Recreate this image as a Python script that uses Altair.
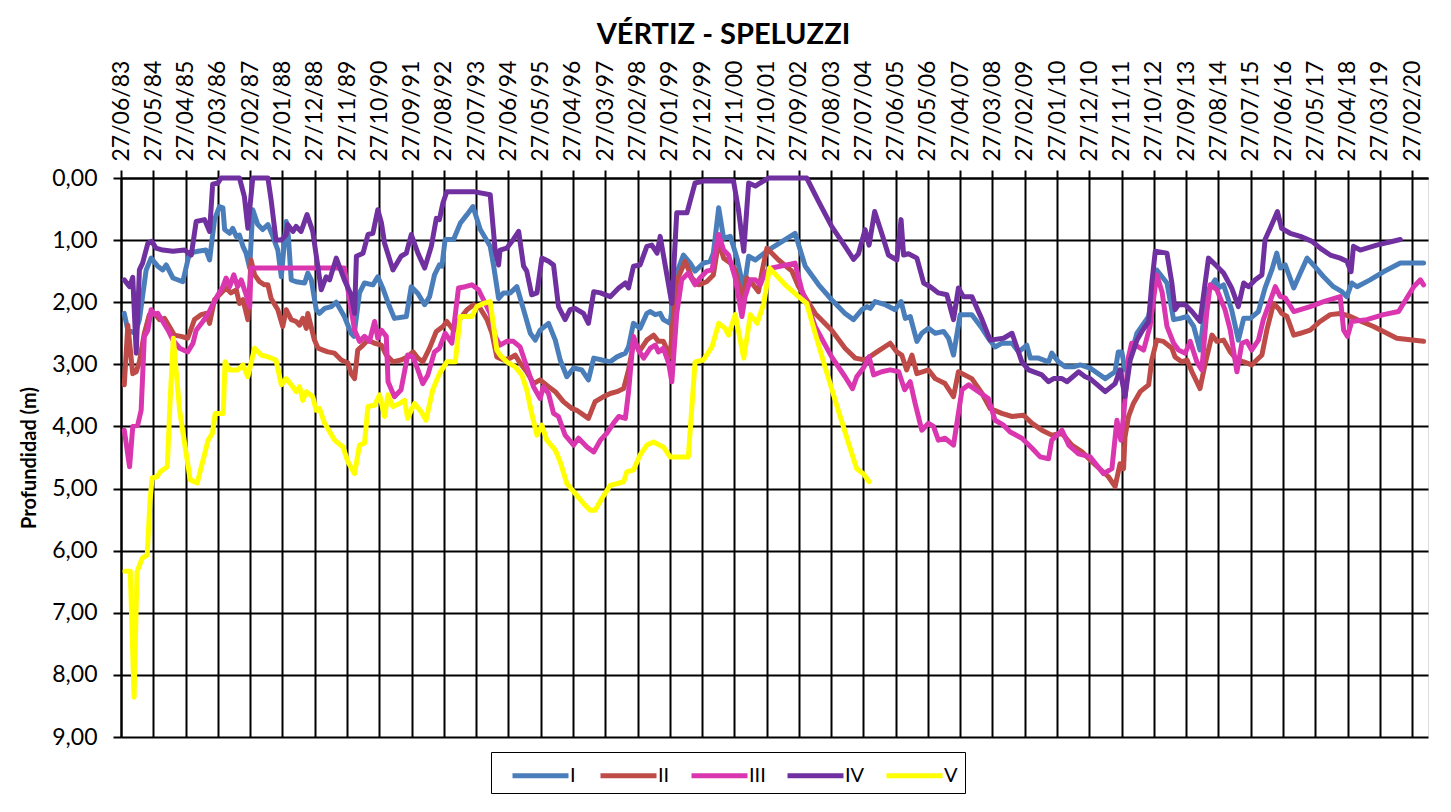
import altair as alt
import pandas as pd

TITLE = "VÉRTIZ - SPELUZZI"
Y_TITLE = "Profundidad (m)"
SERIES = ["I", "II", "III", "IV", "V"]
COLORS = ["#4A7EBB", "#BE4B48", "#DA36B0", "#7030A0", "#FFFF00"]

TICK_LABELS = [
    "27/06/83", "27/05/84", "27/04/85", "27/03/86", "27/02/87", "27/01/88", "27/12/88",
    "27/11/89", "27/10/90", "27/09/91", "27/08/92", "27/07/93", "27/06/94", "27/05/95",
    "27/04/96", "27/03/97", "27/02/98", "27/01/99", "27/12/99", "27/11/00", "27/10/01",
    "27/09/02", "27/08/03", "27/07/04", "27/06/05", "27/05/06", "27/04/07", "27/03/08",
    "27/02/09", "27/01/10", "27/12/10", "27/11/11", "27/10/12", "27/09/13", "27/08/14",
    "27/07/15", "27/06/16", "27/05/17", "27/04/18", "27/03/19", "27/02/20",
]
X_END = "2020-08-09"
Y_TICKS = [0, 1, 2, 3, 4, 5, 6, 7, 8, 9]

# ---- Series I ----
I_YEAR = [1983.58, 1983.68, 1983.89, 1984.01, 1984.20, 1984.34, 1984.53, 1984.67, 1984.77, 1984.96,
          1985.24, 1985.43, 1985.67, 1985.90, 1986.00, 1986.14, 1986.28, 1986.38, 1986.43, 1986.57,
          1986.66, 1986.76, 1986.85, 1986.95, 1987.04, 1987.14, 1987.23, 1987.37, 1987.51, 1987.66,
          1987.80, 1987.94, 1988.04, 1988.18, 1988.24, 1988.32, 1988.46, 1988.70, 1988.79, 1988.89,
          1989.03, 1989.12, 1989.27, 1989.46, 1989.60, 1989.83, 1990.02, 1990.10, 1990.26, 1990.40,
          1990.64, 1990.78, 1990.92, 1991.11, 1991.25, 1991.59, 1991.73, 1991.92, 1992.11, 1992.25,
          1992.39, 1992.53, 1992.60, 1992.69, 1992.93, 1993.12, 1993.31, 1993.48, 1993.69, 1993.97,
          1994.07, 1994.21, 1994.35, 1994.54, 1994.73, 1994.92, 1995.11, 1995.25, 1995.39, 1995.63,
          1995.82, 1995.96, 1996.15, 1996.34, 1996.57, 1996.76, 1996.91, 1997.14, 1997.38, 1997.57,
          1997.81, 1997.90, 1998.04, 1998.23, 1998.42, 1998.52, 1998.66, 1998.80, 1998.89, 1999.08,
          1999.27, 1999.46, 1999.65, 1999.79, 2000.03, 2000.22, 2000.31, 2000.46, 2000.60, 2000.79,
          2000.98, 2001.17, 2001.31, 2001.50, 2001.64, 2001.87, 2002.63, 2002.92, 2003.30, 2003.67,
          2004.05, 2004.29, 2004.53, 2004.67, 2004.76, 2004.90, 2005.19, 2005.47, 2005.64, 2005.76,
          2005.90, 2006.09, 2006.23, 2006.42, 2006.61, 2006.85, 2006.99, 2007.13, 2007.32, 2007.65,
          2007.94, 2008.12, 2008.31, 2008.50, 2008.79, 2008.98, 2009.21, 2009.31, 2009.54, 2009.83,
          2009.92, 2010.11, 2010.30, 2010.54, 2010.73, 2011.01, 2011.44, 2011.72, 2011.81, 2011.91,
          2012.00, 2012.15, 2012.34, 2012.67, 2012.90, 2013.19, 2013.38, 2013.57, 2013.76, 2013.95,
          2014.13, 2014.32, 2014.56, 2014.66, 2014.80, 2015.03, 2015.22, 2015.37, 2015.56, 2015.79,
          2015.98, 2016.17, 2016.31, 2016.41, 2016.55, 2016.79, 2016.98, 2017.17, 2017.35, 2017.64,
          2017.92, 2018.16, 2018.30, 2018.44, 2018.59, 2018.96, 2019.34, 2019.82, 2020.48]
I_DEPTH = [2.18, 2.45, 2.50, 2.28, 1.48, 1.29, 1.42, 1.48, 1.40, 1.61,
           1.67, 1.21, 1.18, 1.16, 1.32, 0.67, 0.46, 0.48, 0.83, 0.89,
           0.81, 0.94, 0.92, 1.10, 1.21, 1.45, 0.51, 0.75, 0.83, 0.75,
           0.94, 1.16, 1.59, 0.70, 0.94, 1.64, 1.67, 1.69, 1.53, 1.64,
           2.12, 2.18, 2.10, 2.07, 2.00, 2.23, 2.50, 2.55, 1.85, 1.69,
           1.72, 1.59, 1.77, 2.07, 2.26, 2.23, 1.75, 1.86, 2.04, 1.91,
           1.56, 1.40, 1.42, 0.99, 0.99, 0.73, 0.59, 0.46, 0.83, 1.10,
           1.42, 1.94, 1.85, 1.85, 1.75, 2.12, 2.50, 2.61, 2.45, 2.34,
           2.61, 2.93, 3.20, 3.06, 3.09, 3.25, 2.90, 2.93, 2.96, 2.88,
           2.82, 2.72, 2.34, 2.42, 2.18, 2.15, 2.20, 2.18, 2.28, 2.34,
           1.53, 1.24, 1.37, 1.50, 1.37, 1.34, 1.21, 0.48, 0.97, 0.94,
           1.29, 1.80, 1.26, 1.32, 1.26, 1.16, 0.89, 1.42, 1.72, 1.96,
           2.18, 2.28, 2.12, 2.07, 2.10, 1.99, 2.04, 2.12, 1.99, 2.26,
           2.23, 2.63, 2.50, 2.42, 2.50, 2.47, 2.58, 2.85, 2.20, 2.20,
           2.42, 2.58, 2.72, 2.66, 2.66, 2.80, 2.69, 2.90, 2.90, 2.96,
           2.82, 2.96, 3.04, 3.04, 3.01, 3.06, 3.23, 3.12, 2.80, 2.80,
           3.09, 2.88, 2.50, 2.23, 1.48, 1.69, 2.28, 2.26, 2.23, 2.39,
           2.77, 1.85, 1.64, 1.77, 1.72, 2.12, 2.61, 2.26, 2.26, 2.15,
           1.77, 1.48, 1.21, 1.45, 1.40, 1.77, 1.53, 1.29, 1.40, 1.59,
           1.75, 1.83, 1.91, 1.69, 1.75, 1.64, 1.51, 1.37, 1.37]

# ---- Series II ----
II_YEAR = [1983.58, 1983.68, 1983.82, 1983.92, 1984.01, 1984.15, 1984.29, 1984.44, 1984.58, 1984.72,
           1984.86, 1985.00, 1985.19, 1985.38, 1985.57, 1985.76, 1985.90, 1986.00, 1986.14, 1986.33,
           1986.47, 1986.61, 1986.76, 1986.85, 1986.95, 1987.09, 1987.18, 1987.28, 1987.42, 1987.56,
           1987.66, 1987.75, 1987.94, 1988.08, 1988.18, 1988.32, 1988.46, 1988.56, 1988.65, 1988.75,
           1988.79, 1988.98, 1989.08, 1989.22, 1989.36, 1989.55, 1989.74, 1989.93, 1990.02, 1990.12,
           1990.21, 1990.36, 1990.50, 1990.69, 1990.88, 1991.02, 1991.21, 1991.44, 1991.63, 1991.78,
           1991.92, 1992.06, 1992.25, 1992.44, 1992.63, 1992.74, 1992.93, 1993.12, 1993.31, 1993.50,
           1993.69, 1993.88, 1994.02, 1994.16, 1994.35, 1994.54, 1994.68, 1994.82, 1995.01, 1995.20,
           1995.39, 1995.63, 1995.82, 1996.05, 1996.29, 1996.43, 1996.76, 1996.95, 1997.19, 1997.38,
           1997.57, 1997.76, 1997.90, 1998.04, 1998.23, 1998.42, 1998.61, 1998.75, 1998.89, 1999.08,
           1999.22, 1999.32, 1999.51, 1999.70, 1999.89, 2000.12, 2000.31, 2000.46, 2000.60, 2000.79,
           2000.93, 2001.12, 2001.26, 2001.40, 2001.59, 2001.70, 2001.83, 2002.16, 2002.54, 2002.73,
           2003.20, 2003.67, 2004.05, 2004.34, 2004.62, 2004.90, 2005.33, 2005.52, 2005.66, 2005.80,
           2005.95, 2006.09, 2006.42, 2006.61, 2006.89, 2007.13, 2007.27, 2007.65, 2007.94, 2008.17,
           2008.50, 2008.79, 2009.12, 2009.36, 2009.64, 2009.92, 2010.21, 2010.49, 2010.78, 2011.16,
           2011.53, 2011.72, 2011.86, 2011.96, 2012.00, 2012.10, 2012.24, 2012.43, 2012.67, 2012.76,
           2012.90, 2013.09, 2013.33, 2013.42, 2013.61, 2013.76, 2013.90, 2014.13, 2014.28, 2014.47,
           2014.61, 2014.80, 2014.99, 2015.18, 2015.37, 2015.60, 2015.74, 2015.89, 2016.03, 2016.22,
           2016.36, 2016.45, 2016.60, 2016.79, 2016.98, 2017.26, 2017.54, 2017.83, 2018.11, 2018.40,
           2018.59, 2019.06, 2019.72, 2020.48]
II_DEPTH = [3.33, 2.37, 3.15, 3.12, 2.96, 2.50, 2.20, 2.18, 2.28, 2.26,
            2.39, 2.53, 2.55, 2.58, 2.28, 2.20, 2.18, 2.34, 1.96, 1.85,
            1.77, 1.85, 1.80, 2.02, 1.96, 2.28, 1.32, 1.56, 1.67, 1.72,
            1.72, 1.94, 2.12, 2.39, 2.12, 2.28, 2.31, 2.37, 2.26, 2.42,
            2.18, 2.61, 2.74, 2.77, 2.80, 2.82, 2.93, 2.98, 3.15, 3.23,
            2.77, 2.69, 2.61, 2.66, 2.69, 2.85, 2.96, 2.93, 2.88, 2.80,
            2.90, 2.96, 2.74, 2.47, 2.39, 2.31, 2.45, 2.26, 2.12, 2.04,
            2.10, 2.28, 2.50, 2.88, 2.93, 2.90, 2.85, 2.98, 3.12, 3.31,
            3.25, 3.36, 3.44, 3.60, 3.71, 3.74, 3.87, 3.60, 3.52, 3.47,
            3.44, 3.39, 3.09, 2.66, 2.77, 2.61, 2.53, 2.63, 2.63, 2.88,
            1.91, 1.59, 1.34, 1.61, 1.72, 1.67, 1.56, 1.02, 1.29, 1.37,
            1.48, 1.96, 1.61, 1.69, 1.83, 1.48, 1.13, 1.32, 1.50, 1.75,
            2.18, 2.45, 2.74, 2.90, 2.93, 2.82, 2.66, 2.80, 2.85, 3.09,
            2.85, 3.15, 3.09, 3.23, 3.31, 3.52, 3.12, 3.23, 3.47, 3.71,
            3.79, 3.84, 3.82, 3.95, 4.06, 4.14, 4.11, 4.30, 4.41, 4.62,
            4.81, 4.97, 4.60, 4.68, 4.17, 3.84, 3.63, 3.44, 3.33, 2.93,
            2.61, 2.63, 2.74, 2.88, 2.96, 2.93, 3.12, 3.39, 2.98, 2.53,
            2.63, 2.61, 2.80, 2.93, 2.96, 3.01, 2.93, 2.85, 2.45, 2.02,
            2.10, 2.18, 2.23, 2.53, 2.50, 2.45, 2.31, 2.20, 2.18, 2.23,
            2.28, 2.39, 2.58, 2.63]

# ---- Series III ----
III_YEAR = [1983.58, 1983.73, 1983.82, 1983.96, 1984.06, 1984.15, 1984.25, 1984.34, 1984.44, 1984.53,
            1984.67, 1984.82, 1984.96, 1985.15, 1985.38, 1985.53, 1985.62, 1985.81, 1985.95, 1986.09,
            1986.24, 1986.38, 1986.47, 1986.57, 1986.69, 1986.80, 1986.90, 1987.04, 1987.14, 1987.18,
            1989.83, 1989.93, 1990.12, 1990.26, 1990.40, 1990.54, 1990.69, 1990.78, 1990.88, 1991.02,
            1991.07, 1991.25, 1991.44, 1991.63, 1991.78, 1991.92, 1992.06, 1992.20, 1992.39, 1992.53,
            1992.69, 1992.88, 1993.07, 1993.26, 1993.45, 1993.64, 1993.78, 1993.97, 1994.11, 1994.25,
            1994.44, 1994.63, 1994.82, 1995.01, 1995.20, 1995.39, 1995.48, 1995.63, 1995.77, 1995.91,
            1996.10, 1996.34, 1996.48, 1996.72, 1996.91, 1997.10, 1997.28, 1997.47, 1997.62, 1997.81,
            1997.90, 1998.04, 1998.18, 1998.33, 1998.52, 1998.66, 1998.75, 1998.89, 1999.04, 1999.13,
            1999.27, 1999.41, 1999.60, 1999.79, 1999.93, 2000.12, 2000.27, 2000.46, 2000.60, 2000.74,
            2000.93, 2001.12, 2001.21, 2001.36, 2001.50, 2001.64, 2001.78, 2001.97, 2002.63, 2002.82,
            2003.20, 2003.67, 2004.05, 2004.26, 2004.38, 2004.57, 2004.73, 2004.86, 2005.09, 2005.33,
            2005.57, 2005.74, 2005.90, 2006.04, 2006.23, 2006.42, 2006.56, 2006.70, 2006.89, 2007.13,
            2007.37, 2007.56, 2007.84, 2008.12, 2008.31, 2008.55, 2008.74, 2009.07, 2009.36, 2009.59,
            2009.83, 2009.92, 2010.21, 2010.40, 2010.68, 2011.01, 2011.39, 2011.63, 2011.77, 2011.88,
            2011.96, 2012.10, 2012.19, 2012.38, 2012.53, 2012.71, 2012.90, 2013.05, 2013.19, 2013.38,
            2013.52, 2013.71, 2013.85, 2014.04, 2014.18, 2014.32, 2014.42, 2014.61, 2014.84, 2014.99,
            2015.18, 2015.32, 2015.46, 2015.60, 2015.79, 2015.93, 2016.12, 2016.27, 2016.41, 2016.55,
            2016.79, 2017.26, 2017.64, 2018.11, 2018.21, 2018.32, 2018.44, 2018.87, 2019.34, 2019.77,
            2020.20, 2020.39, 2020.48]
III_DEPTH = [4.06, 4.65, 4.00, 3.98, 3.74, 2.55, 2.45, 2.12, 2.20, 2.18,
             2.31, 2.45, 2.61, 2.74, 2.80, 2.66, 2.45, 2.31, 2.20, 2.04,
             1.88, 1.75, 1.61, 1.75, 1.56, 1.75, 1.64, 1.88, 2.07, 1.45,
             1.45, 1.80, 2.45, 2.63, 2.55, 2.63, 2.31, 2.58, 2.45, 2.55,
             3.28, 3.52, 3.41, 2.85, 2.88, 3.09, 3.31, 3.17, 2.80, 2.74,
             2.50, 2.66, 1.77, 1.75, 1.72, 1.80, 1.96, 2.18, 2.55, 2.69,
             2.63, 2.63, 2.72, 3.04, 3.36, 3.55, 3.36, 3.47, 3.79, 3.84,
             4.14, 4.30, 4.19, 4.33, 4.41, 4.22, 4.11, 3.95, 3.84, 3.87,
             3.44, 2.55, 2.77, 2.90, 2.74, 2.69, 2.80, 2.74, 2.98, 3.28,
             2.18, 1.64, 1.53, 1.72, 1.61, 1.50, 1.48, 0.91, 1.16, 1.24,
             1.61, 2.23, 1.91, 1.64, 1.64, 1.72, 1.52, 1.45, 1.37, 1.80,
             2.39, 2.88, 3.20, 3.39, 3.20, 3.06, 2.88, 3.17, 3.12, 3.09,
             3.12, 3.41, 3.28, 3.63, 4.06, 3.95, 4.00, 4.22, 4.19, 4.30,
             3.41, 3.33, 3.44, 3.55, 3.90, 3.98, 4.09, 4.19, 4.35, 4.49,
             4.52, 4.22, 4.06, 4.30, 4.44, 4.49, 4.76, 4.68, 3.90, 4.22,
             3.84, 2.88, 2.66, 2.72, 2.77, 2.39, 1.56, 1.83, 2.39, 2.66,
             2.77, 2.82, 2.63, 2.96, 3.09, 2.18, 1.72, 1.80, 2.12, 2.45,
             3.12, 2.66, 2.63, 2.77, 2.61, 2.28, 1.99, 1.75, 1.91, 1.93,
             2.15, 2.07, 1.99, 1.91, 2.45, 2.55, 2.31, 2.28, 2.20, 2.15,
             1.75, 1.64, 1.72]

# ---- Series IV ----
IV_YEAR = [1983.58, 1983.73, 1983.82, 1983.92, 1984.01, 1984.10, 1984.25, 1984.36, 1984.48, 1984.67,
           1984.96, 1985.29, 1985.48, 1985.62, 1985.86, 1986.00, 1986.09, 1986.24, 1986.33, 1986.85,
           1986.99, 1987.09, 1987.23, 1987.66, 1987.75, 1987.89, 1988.04, 1988.18, 1988.22, 1988.37,
           1988.46, 1988.60, 1988.77, 1988.93, 1989.17, 1989.31, 1989.41, 1989.60, 1989.83, 1990.02,
           1990.12, 1990.17, 1990.36, 1990.50, 1990.64, 1990.78, 1990.88, 1990.97, 1991.21, 1991.44,
           1991.59, 1991.73, 1991.92, 1992.11, 1992.30, 1992.44, 1992.53, 1992.63, 1992.74, 1993.50,
           1993.97, 1994.11, 1994.21, 1994.25, 1994.44, 1994.63, 1994.78, 1994.92, 1995.01, 1995.15,
           1995.30, 1995.44, 1995.63, 1995.77, 1995.91, 1996.10, 1996.24, 1996.38, 1996.62, 1996.76,
           1996.91, 1997.10, 1997.38, 1997.62, 1997.81, 1997.90, 1998.04, 1998.23, 1998.42, 1998.56,
           1998.71, 1998.80, 1999.13, 1999.27, 1999.56, 1999.79, 2000.03, 2000.88, 2001.02, 2001.17,
           2001.31, 2001.50, 2001.64, 2001.88, 2002.96, 2003.30, 2003.67, 2004.05, 2004.29, 2004.43,
           2004.62, 2004.73, 2004.89, 2005.09, 2005.28, 2005.52, 2005.64, 2005.71, 2005.85, 2006.09,
           2006.28, 2006.47, 2006.70, 2006.94, 2007.13, 2007.27, 2007.41, 2007.65, 2007.94, 2008.17,
           2008.55, 2008.79, 2009.07, 2009.26, 2009.64, 2009.83, 2009.97, 2010.21, 2010.35, 2010.68,
           2010.87, 2011.01, 2011.44, 2011.72, 2011.86, 2012.00, 2012.15, 2012.34, 2012.48, 2012.67,
           2012.76, 2012.86, 2013.19, 2013.33, 2013.42, 2013.52, 2013.71, 2013.90, 2014.13, 2014.37,
           2014.61, 2014.80, 2015.03, 2015.22, 2015.37, 2015.51, 2015.70, 2015.89, 2015.98, 2016.17,
           2016.33, 2016.45, 2016.69, 2016.98, 2017.31, 2017.54, 2017.83, 2018.11, 2018.30, 2018.42,
           2018.49, 2018.68, 2019.15, 2019.82]
IV_DEPTH = [1.64, 1.75, 1.60, 2.82, 1.48, 1.37, 1.05, 1.02, 1.13, 1.16,
            1.18, 1.16, 1.24, 0.70, 0.67, 0.86, 0.10, 0.08, 0.00, 0.00,
            0.30, 0.81, 0.00, 0.00, 0.35, 1.00, 1.00, 0.91, 0.75, 0.86,
            0.78, 0.86, 0.59, 0.86, 1.80, 1.59, 1.64, 1.29, 1.64, 1.88,
            2.18, 1.26, 1.21, 0.91, 0.89, 0.51, 0.72, 1.05, 1.48, 1.26,
            1.21, 0.91, 1.21, 1.45, 1.10, 0.65, 0.67, 0.40, 0.22, 0.22,
            0.27, 1.16, 1.40, 1.16, 1.13, 0.99, 0.86, 1.42, 1.50, 1.88,
            1.85, 1.29, 1.34, 1.40, 2.07, 2.28, 2.12, 2.10, 2.18, 2.34,
            1.83, 1.85, 1.91, 1.77, 1.69, 1.77, 1.42, 1.40, 1.10, 1.08,
            1.21, 0.94, 2.02, 0.56, 0.56, 0.08, 0.05, 0.05, 0.51, 1.18,
            0.08, 0.13, 0.08, 0.00, 0.00, 0.38, 0.78, 1.10, 1.31, 1.22,
            0.83, 1.08, 0.54, 0.89, 1.24, 1.32, 0.67, 1.24, 1.22, 1.29,
            1.69, 1.75, 1.85, 1.88, 2.28, 1.77, 1.91, 1.91, 2.28, 2.61,
            2.58, 2.50, 2.96, 3.09, 3.17, 3.28, 3.23, 3.23, 3.28, 3.12,
            3.20, 3.23, 3.44, 3.31, 3.09, 3.52, 2.93, 2.61, 2.47, 2.31,
            1.69, 1.18, 1.21, 1.69, 2.12, 2.04, 2.04, 2.15, 2.31, 1.29,
            1.42, 1.53, 1.77, 2.07, 1.69, 1.75, 1.64, 1.56, 0.99, 0.75,
            0.54, 0.81, 0.89, 0.94, 1.02, 1.13, 1.24, 1.29, 1.34, 1.51,
            1.10, 1.16, 1.08, 0.99]

# ---- Series V ----
V_YEAR = [1983.60, 1983.75, 1983.86, 1983.94, 1984.09, 1984.23, 1984.31, 1984.37, 1984.51, 1984.60,
          1984.80, 1984.88, 1984.97, 1985.15, 1985.45, 1985.65, 1985.96, 1986.08, 1986.16, 1986.39,
          1986.44, 1986.57, 1986.80, 1986.95, 1987.09, 1987.28, 1987.47, 1987.66, 1987.89, 1988.04,
          1988.18, 1988.32, 1988.46, 1988.56, 1988.65, 1988.75, 1988.93, 1989.03, 1989.12, 1989.27,
          1989.55, 1989.79, 1989.93, 1990.12, 1990.26, 1990.40, 1990.50, 1990.69, 1990.83, 1990.97,
          1991.07, 1991.21, 1991.40, 1991.54, 1991.63, 1991.73, 1991.82, 1992.01, 1992.15, 1992.34,
          1992.53, 1992.74, 1992.98, 1993.12, 1993.45, 1993.59, 1993.78, 1993.97, 1994.16, 1994.25,
          1994.44, 1994.68, 1994.87, 1995.01, 1995.15, 1995.30, 1995.44, 1995.58, 1995.82, 1995.96,
          1996.15, 1996.34, 1996.62, 1996.81, 1996.95, 1997.14, 1997.38, 1997.57, 1997.76, 1997.85,
          1998.04, 1998.23, 1998.42, 1998.61, 1998.89, 1999.08, 1999.60, 1999.79, 2000.03, 2000.27,
          2000.46, 2000.64, 2000.74, 2000.93, 2001.17, 2001.36, 2001.55, 2001.74, 2001.90, 2002.35,
          2002.73, 2002.96, 2003.20, 2003.48, 2003.77, 2004.15, 2004.38, 2004.57, 2004.73]
V_DEPTH = [6.33, 6.33, 8.36, 6.34, 6.12, 6.07, 5.19, 4.83, 4.81, 4.73,
           4.65, 3.57, 2.58, 3.74, 4.86, 4.91, 4.22, 4.11, 3.79, 3.79,
           2.96, 3.09, 3.09, 3.01, 3.20, 2.74, 2.85, 2.88, 2.93, 3.33,
           3.23, 3.33, 3.44, 3.36, 3.58, 3.44, 3.52, 3.74, 3.71, 3.95,
           4.22, 4.33, 4.57, 4.76, 4.30, 4.27, 3.68, 3.66, 3.49, 3.84,
           3.49, 3.68, 3.63, 3.58, 3.87, 3.74, 3.63, 3.76, 3.90, 3.41,
           3.15, 2.96, 2.96, 2.23, 2.23, 2.07, 2.02, 1.99, 2.77, 2.85,
           2.96, 3.04, 3.17, 3.41, 3.79, 4.14, 3.98, 4.22, 4.38, 4.57,
           4.92, 5.05, 5.24, 5.35, 5.35, 5.16, 4.95, 4.92, 4.89, 4.73,
           4.70, 4.46, 4.30, 4.25, 4.33, 4.49, 4.49, 2.96, 2.93, 2.72,
           2.34, 2.42, 2.53, 2.20, 2.90, 2.20, 2.34, 2.02, 1.45, 1.72,
           1.91, 2.02, 2.50, 3.04, 3.58, 4.27, 4.68, 4.76, 4.89]


def year_to_iso(y):
    yr = int(y)
    start = pd.Timestamp(yr, 1, 1)
    end = pd.Timestamp(yr + 1, 1, 1)
    return (start + (end - start) * (y - yr)).strftime("%Y-%m-%d")


def label_to_dt(lbl):
    d, m, yy = lbl.split("/")
    yy = int(yy)
    year = 1900 + yy if yy >= 50 else 2000 + yy
    return alt.DateTime(year=year, month=int(m), date=int(d), utc=True)


rows = []
for name, ys, ds in [("I", I_YEAR, I_DEPTH), ("II", II_YEAR, II_DEPTH),
                     ("III", III_YEAR, III_DEPTH), ("IV", IV_YEAR, IV_DEPTH),
                     ("V", V_YEAR, V_DEPTH)]:
    for y, d in zip(ys, ds):
        rows.append({"serie": name, "fecha": year_to_iso(y), "prof": d})
df = pd.DataFrame(rows)

end_y, end_m, end_d = [int(v) for v in X_END.split("-")]
x_domain = [label_to_dt(TICK_LABELS[0]),
            alt.DateTime(year=end_y, month=end_m, date=end_d, utc=True)]
x_values = [label_to_dt(l) for l in TICK_LABELS]

FONT = "Lato"

chart = alt.Chart(df).mark_line(
    strokeWidth=5, strokeJoin="round", strokeCap="round"
).encode(
    x=alt.X(
        "fecha:T",
        scale=alt.Scale(type="utc", domain=x_domain),
        axis=alt.Axis(
            orient="top", values=x_values,
            labelExpr="utcFormat(datum.value, '%d/%m/%y')",
            labelAngle=270, labelFont=FONT, labelFontSize=23, labelColor="black",
            labelPadding=9, labelOverlap=False, labelFlush=False,
            tickSize=8, tickColor="black", tickWidth=2,
            grid=True, gridColor="black", gridWidth=2, gridOpacity=1,
            domainColor="black", domainWidth=2, title=None,
        ),
    ),
    y=alt.Y(
        "prof:Q",
        scale=alt.Scale(domain=[0, 9], reverse=True, nice=False),
        axis=alt.Axis(
            values=Y_TICKS,
            labelExpr="replace(format(datum.value, '.2f'), '.', ',')",
            labelFont=FONT, labelFontSize=23, labelColor="black", labelPadding=16,
            tickSize=8, tickColor="black", tickWidth=2,
            grid=True, gridColor="black", gridWidth=2, gridOpacity=1,
            domainColor="black", domainWidth=2,
            title=Y_TITLE, titleFont=FONT, titleFontSize=20, titleFontWeight="bold",
            titleColor="black", titlePadding=12,
        ),
    ),
    color=alt.Color(
        "serie:N",
        scale=alt.Scale(domain=SERIES, range=COLORS),
        legend=alt.Legend(
            title=None, orient="none", legendX=370, legendY=574,
            direction="horizontal", strokeColor="black", fillColor="white",
            padding=7, symbolType="M-1,0L3,0", symbolSize=784, symbolStrokeWidth=5,
            symbolOffset=12,
            labelFont=FONT, labelFontSize=20, labelColor="black", labelOffset=27,
            columnPadding=7,
        ),
    ),
).properties(
    width=1307,
    height=559,
    title=alt.TitleParams(
        TITLE, font=FONT, fontSize=29, fontWeight="bold", color="black",
        anchor="middle", dx=-51, offset=10,
    ),
    autosize=alt.AutoSizeParams(type="none"),
    padding={"left": 113, "top": 170, "right": 10, "bottom": 66},
).configure_view(
    fill="#C0C0C0", strokeOpacity=0
).configure(background="white")

chart.save("out.html", embed_options={"renderer": "svg", "actions": False})
